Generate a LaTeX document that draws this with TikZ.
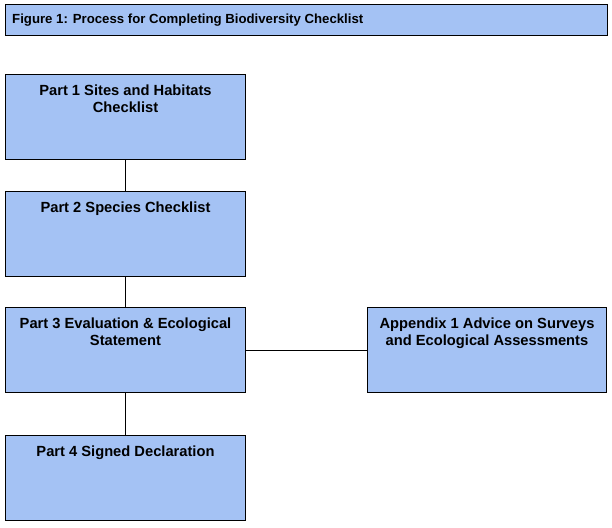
\documentclass[tikz,border=0pt]{standalone}
\usepackage{fontspec}
\setmainfont{Liberation Sans}
\usepackage{tikz}
\tikzset{>=latex}
\usetikzlibrary{positioning}
\definecolor{checkblue}{RGB}{164,194,244}
\tikzset{
  partbox/.style={draw=black, line width=1pt, fill=checkblue, minimum width=240pt, minimum height=85pt, inner sep=0pt, anchor=north west},
  parttext/.style={font=\fontsize{14.7}{17}\selectfont\bfseries, align=center, anchor=north, inner sep=0pt, yshift=-10.5pt},
  link/.style={line width=1pt, draw=black}
}

\begin{document}
\begin{tikzpicture}[x=1pt, y=-1pt]
  \useasboundingbox (0,0) rectangle (612,527);

  % Title bar
  \node[partbox, minimum width=602pt, minimum height=31pt] (title) at (5,4) {};
  \node[font=\fontsize{13.2}{15}\selectfont\bfseries, anchor=west, inner sep=0pt] (titletext) at ([xshift=7pt, yshift=-0.5pt]title.west) {Figure 1: Process for Completing Biodiversity Checklist};

  % Parts
  \node[partbox] (part1) at (5,74) {};
  \node[partbox] (part2) at (5,191) {};
  \node[partbox] (part3) at (5,307) {};
  \node[partbox] (part4) at (5,435) {};
  \node[partbox, minimum width=239pt] (app1) at (367,307) {};

  \node[parttext] (part1text) at (part1.north) {Part 1 Sites and Habitats\\Checklist};
  \node[parttext] (part2text) at (part2.north) {Part 2 Species Checklist};
  \node[parttext] (part3text) at (part3.north) {Part 3 Evaluation \& Ecological\\Statement};
  \node[parttext] (part4text) at (part4.north) {Part 4 Signed Declaration};
  \node[parttext] (app1text) at (app1.north) {Appendix 1 Advice on Surveys\\and Ecological Assessments};

  % Links
  \foreach \a/\b in {part1/part2, part2/part3, part3/part4}{
      \draw[link] (\a.south) -- (\b.north);
  }
  \draw[link] (part3.east) -- (app1.west);

\end{tikzpicture}
\end{document}
